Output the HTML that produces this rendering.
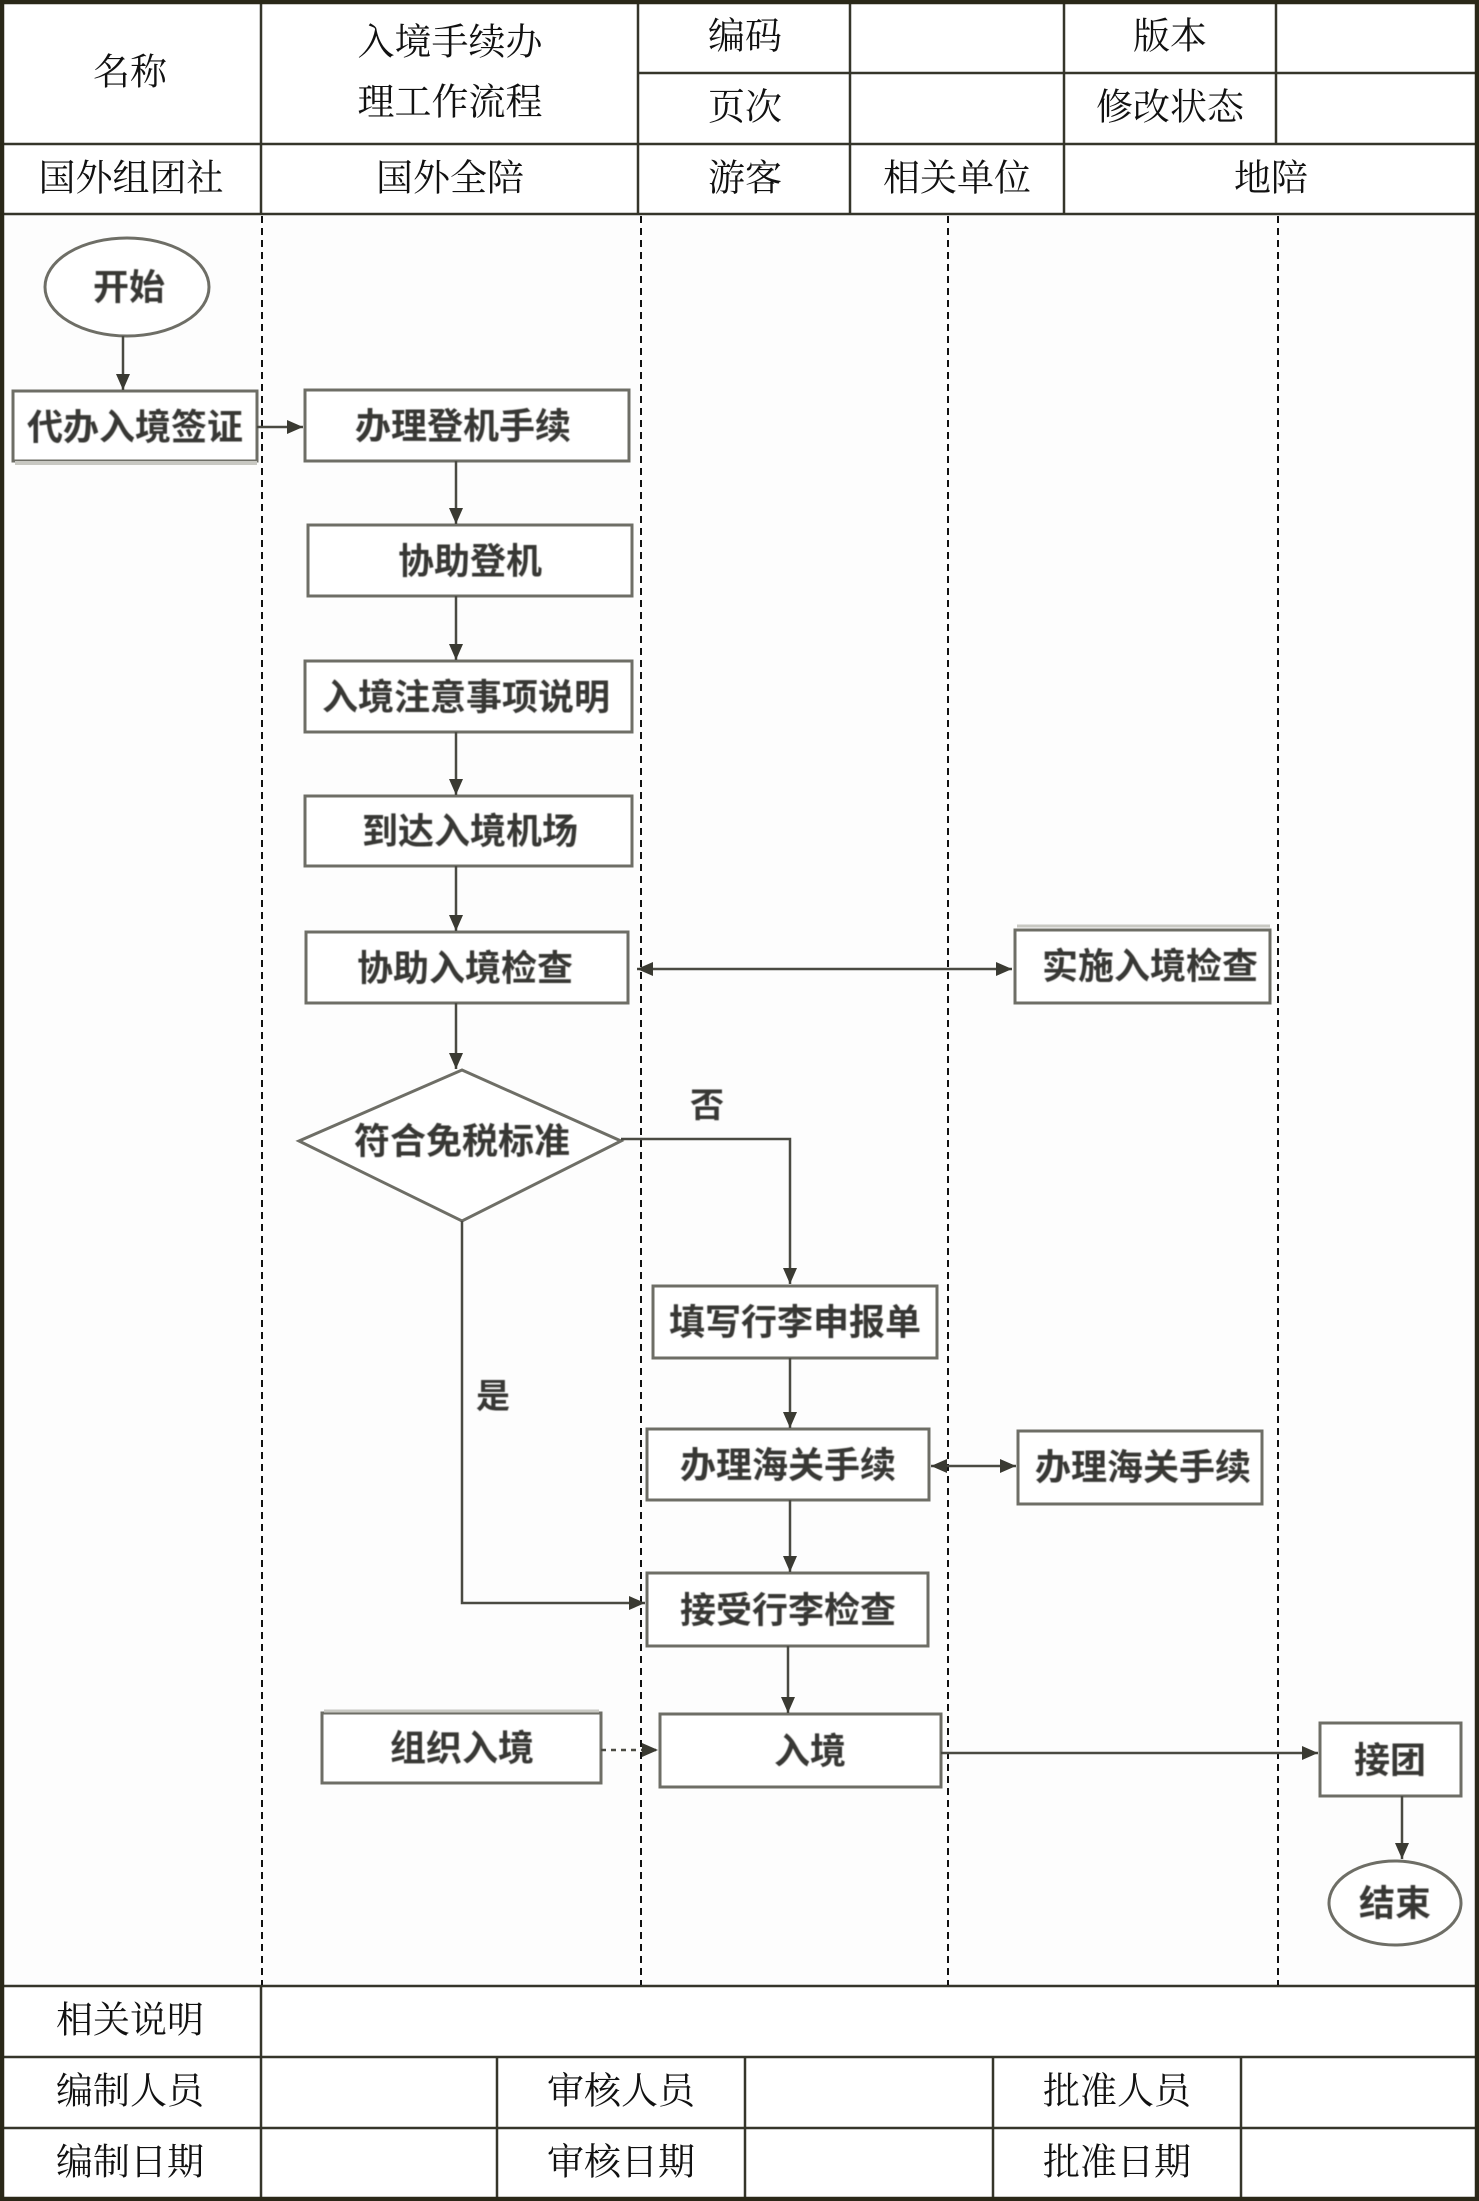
<!DOCTYPE html>
<html lang="zh-CN">
<head>
<meta charset="utf-8">
<style>
  html,body{margin:0;padding:0;background:#fff;}
  svg{display:block;}
  .h{font-family:"Liberation Serif","Noto Serif CJK SC","Noto Serif CJK",serif;font-size:37px;font-weight:normal;fill:#111;}
  .f{font-family:"Liberation Sans","Noto Sans CJK SC",sans-serif;font-size:36px;font-weight:bold;fill:#383834;}
  .b{fill:#fff;stroke:#6e6e66;stroke-width:3;}
  .c{stroke:#4a4a42;stroke-width:2.5;fill:none;}
  .g{stroke:#35352a;stroke-width:2.5;}
  .d{stroke:#111;stroke-width:2;stroke-dasharray:7 5;}
</style>
</head>
<body>
<svg width="1479" height="2201" viewBox="0 0 1479 2201" xmlns="http://www.w3.org/2000/svg">
<defs>
  <marker id="a" markerWidth="18" markerHeight="16" refX="16" refY="8" orient="auto" markerUnits="userSpaceOnUse">
    <path d="M0,1 L16,8 L0,15 Z" fill="#3a3a32"/>
  </marker>
  <marker id="s" markerWidth="18" markerHeight="16" refX="16" refY="8" orient="auto-start-reverse" markerUnits="userSpaceOnUse">
    <path d="M0,1 L16,8 L0,15 Z" fill="#3a3a32"/>
  </marker>
  <filter id="bl" x="-5%" y="-20%" width="110%" height="140%"><feGaussianBlur stdDeviation="0.6"/></filter>
</defs>

<rect x="0" y="0" width="1479" height="2201" fill="#fff"/>
<rect x="3" y="214" width="1473" height="1772" fill="#fdfdfd"/>

<!-- table grid -->
<line class="g" x1="638" y1="73" x2="1476" y2="73"/>
<line class="g" x1="0" y1="144" x2="1479" y2="144"/>
<line class="g" x1="0" y1="214" x2="1479" y2="214"/>
<line class="g" x1="0" y1="1986" x2="1479" y2="1986"/>
<line class="g" x1="0" y1="2057" x2="1479" y2="2057"/>
<line class="g" x1="0" y1="2128" x2="1479" y2="2128"/>

<line class="g" x1="261" y1="0" x2="261" y2="214"/>
<line class="g" x1="638" y1="0" x2="638" y2="214"/>
<line class="g" x1="850" y1="0" x2="850" y2="214"/>
<line class="g" x1="1064" y1="0" x2="1064" y2="214"/>
<line class="g" x1="1276" y1="0" x2="1276" y2="144"/>

<line class="g" x1="261" y1="1986" x2="261" y2="2201"/>
<line class="g" x1="497" y1="2057" x2="497" y2="2201"/>
<line class="g" x1="745" y1="2057" x2="745" y2="2201"/>
<line class="g" x1="993" y1="2057" x2="993" y2="2201"/>
<line class="g" x1="1241" y1="2057" x2="1241" y2="2201"/>

<!-- swimlane dashed lines -->
<line class="d" x1="262" y1="216" x2="262" y2="1985"/>
<line class="d" x1="641" y1="216" x2="641" y2="1985"/>
<line class="d" x1="948" y1="216" x2="948" y2="1985"/>
<line class="d" x1="1278" y1="216" x2="1278" y2="1985"/>

<!-- outer border -->
<rect x="2" y="2" width="1475" height="2197" fill="none" stroke="#2a2818" stroke-width="4.5"/>

<!-- header text -->
<g class="h" text-anchor="middle" dominant-baseline="central">
  <text x="130" y="73">名称</text>
  <text x="450" y="43">入境手续办</text>
  <text x="450" y="103">理工作流程</text>
  <text x="745" y="37">编码</text>
  <text x="745" y="108">页次</text>
  <text x="1170" y="37">版本</text>
  <text x="1170" y="108">修改状态</text>
  <text x="131" y="179">国外组团社</text>
  <text x="450" y="179">国外全陪</text>
  <text x="745" y="179">游客</text>
  <text x="957" y="179">相关单位</text>
  <text x="1271" y="179">地陪</text>
  <text x="130" y="2021">相关说明</text>
  <text x="130" y="2092">编制人员</text>
  <text x="621" y="2092">审核人员</text>
  <text x="1117" y="2092">批准人员</text>
  <text x="130" y="2163">编制日期</text>
  <text x="621" y="2163">审核日期</text>
  <text x="1117" y="2163">批准日期</text>
</g>

<!-- shapes -->
<ellipse class="b" cx="127" cy="287" rx="82" ry="49"/>
<rect class="b" x="13" y="391" width="244" height="70"/>
<line x1="15" y1="463" x2="257" y2="463" stroke="#c8c8c2" stroke-width="4"/>
<rect class="b" x="305" y="390" width="324" height="71"/>
<rect class="b" x="308" y="525" width="324" height="71"/>
<rect class="b" x="305" y="661" width="327" height="71"/>
<rect class="b" x="305" y="796" width="327" height="70"/>
<rect class="b" x="306" y="932" width="322" height="71"/>
<rect class="b" x="1015" y="930" width="255" height="73"/>
<line x1="1017" y1="926" x2="1270" y2="926" stroke="#c8c8c2" stroke-width="3"/>
<polygon class="b" points="462,1070 621,1141 462,1221 299,1141"/>
<rect class="b" x="653" y="1286" width="284" height="72"/>
<rect class="b" x="647" y="1429" width="282" height="71"/>
<rect class="b" x="1018" y="1431" width="244" height="73"/>
<rect class="b" x="647" y="1573" width="281" height="73"/>
<rect class="b" x="660" y="1714" width="281" height="73"/>
<rect class="b" x="322" y="1713" width="279" height="70"/>
<line x1="324" y1="1711" x2="599" y2="1711" stroke="#c8c8c2" stroke-width="3"/>
<rect class="b" x="1320" y="1723" width="141" height="73"/>
<ellipse class="b" cx="1395" cy="1903" rx="66" ry="42"/>

<!-- connectors -->
<line class="c" x1="123" y1="336" x2="123" y2="390" marker-end="url(#a)"/>
<line class="c" x1="257" y1="427" x2="303" y2="427" marker-end="url(#a)"/>
<line class="c" x1="456" y1="461" x2="456" y2="524" marker-end="url(#a)"/>
<line class="c" x1="456" y1="596" x2="456" y2="660" marker-end="url(#a)"/>
<line class="c" x1="456" y1="732" x2="456" y2="795" marker-end="url(#a)"/>
<line class="c" x1="456" y1="866" x2="456" y2="931" marker-end="url(#a)"/>
<line class="c" x1="637" y1="969" x2="1012" y2="969" marker-start="url(#s)" marker-end="url(#s)"/>
<line class="c" x1="456" y1="1003" x2="456" y2="1069" marker-end="url(#a)"/>
<polyline class="c" points="621,1139 790,1139 790,1284" marker-end="url(#a)"/>
<line class="c" x1="790" y1="1358" x2="790" y2="1428" marker-end="url(#a)"/>
<line class="c" x1="931" y1="1466" x2="1016" y2="1466" marker-start="url(#s)" marker-end="url(#s)"/>
<line class="c" x1="790" y1="1500" x2="790" y2="1572" marker-end="url(#a)"/>
<polyline class="c" points="462,1221 462,1603 645,1603" marker-end="url(#a)"/>
<line class="c" x1="788" y1="1646" x2="788" y2="1713" marker-end="url(#a)"/>
<line class="c" x1="601" y1="1750" x2="658" y2="1750" stroke-dasharray="5 5" marker-end="url(#a)"/>
<line class="c" x1="941" y1="1753" x2="1318" y2="1753" marker-end="url(#a)"/>
<line class="c" x1="1402" y1="1796" x2="1402" y2="1859" marker-end="url(#a)"/>

<!-- flow text -->
<g class="f" text-anchor="middle" dominant-baseline="central" filter="url(#bl)">
  <text x="129" y="287">开始</text>
  <text x="135" y="427">代办入境签证</text>
  <text x="463" y="426">办理登机手续</text>
  <text x="470" y="561">协助登机</text>
  <text x="466" y="697">入境注意事项说明</text>
  <text x="470" y="831">到达入境机场</text>
  <text x="465" y="968">协助入境检查</text>
  <text x="1150" y="966">实施入境检查</text>
  <text x="462" y="1141">符合免税标准</text>
  <text x="707" y="1106" font-size="34">否</text>
  <text x="795" y="1322">填写行李申报单</text>
  <text x="788" y="1465">办理海关手续</text>
  <text x="1143" y="1467">办理海关手续</text>
  <text x="493" y="1397" font-size="34">是</text>
  <text x="788" y="1610">接受行李检查</text>
  <text x="810" y="1751">入境</text>
  <text x="462" y="1748">组织入境</text>
  <text x="1390" y="1760">接团</text>
  <text x="1395" y="1903">结束</text>
</g>
</svg>
</body>
</html>
